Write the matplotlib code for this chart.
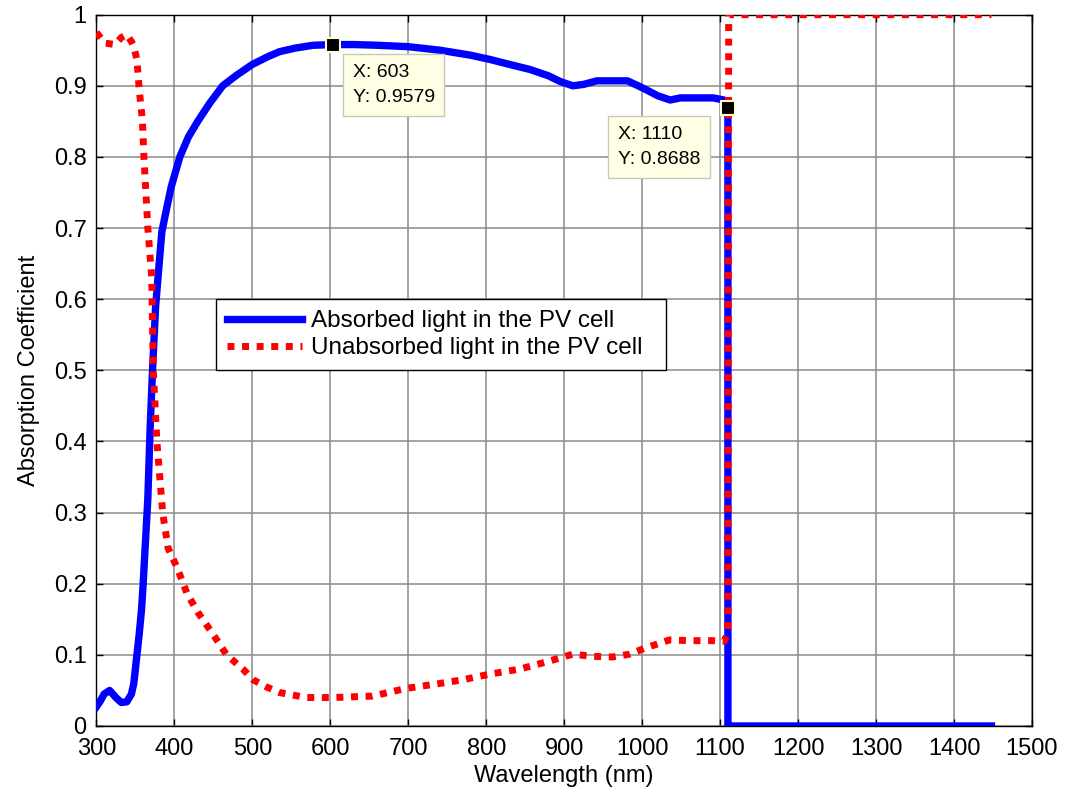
import matplotlib
matplotlib.use("Agg")
import matplotlib.pyplot as plt

plt.rcParams["font.family"] = ["Liberation Sans", "DejaVu Sans"]

# Absorbed light (fraction of incident light absorbed by the PV cell)
absorbed_wl = [300, 305, 310, 317, 325, 332, 339, 345, 348, 352, 355, 358, 360,
               363, 366, 369, 372, 376, 379, 384, 390, 396, 407, 418, 430, 445,
               462, 480, 500, 520, 535, 555, 578, 603, 630, 660, 700, 741, 780,
               805, 830, 856, 880, 895, 911, 925, 942, 960, 981, 995, 1006, 1020,
               1036, 1049, 1070, 1091, 1105, 1110, 1110, 1111, 1448]
absorbed = [0.027, 0.035, 0.045, 0.050, 0.040, 0.033, 0.034, 0.045, 0.060, 0.100,
            0.130, 0.165, 0.200, 0.260, 0.320, 0.420, 0.500, 0.590, 0.630, 0.695,
            0.727, 0.758, 0.800, 0.828, 0.850, 0.875, 0.900, 0.915, 0.930, 0.941,
            0.948, 0.953, 0.957, 0.9579, 0.958, 0.957, 0.955, 0.950, 0.943, 0.937,
            0.930, 0.923, 0.914, 0.906, 0.900, 0.902, 0.907, 0.907, 0.907, 0.900,
            0.894, 0.886, 0.880, 0.883, 0.883, 0.883, 0.880, 0.8688, 0.0, 0.0, 0.0]

# Unabsorbed light (remaining fraction)
unabsorbed_wl = [300, 311, 324, 332, 339, 345, 348, 352, 355, 359, 361, 366, 371,
                 373, 377.6, 385, 392, 403, 416, 430, 449, 467, 488, 501, 518,
                 535, 569, 603, 654, 698, 736, 770, 805, 843, 877, 911, 935, 962,
                 984, 1005, 1035, 1060, 1090, 1105, 1110, 1111, 1448]
unabsorbed = [0.975, 0.960, 0.958, 0.968, 0.972, 0.962, 0.955, 0.937, 0.894,
              0.852, 0.800, 0.700, 0.630, 0.500, 0.400, 0.300, 0.250, 0.224,
              0.187, 0.160, 0.130, 0.100, 0.080, 0.065, 0.055, 0.047, 0.040,
              0.040, 0.042, 0.053, 0.059, 0.065, 0.073, 0.080, 0.090, 0.101,
              0.098, 0.097, 0.101, 0.110, 0.121, 0.120, 0.120, 0.119, 0.131,
              1.0, 1.0]

# Data tips shown on the absorbed curve
tip_x = [603, 1110]
tip_y = [0.9579, 0.8688]
tip_labels = ["X: 603\nY: 0.9579", "X: 1110\nY: 0.8688"]
tip_offsets = [(20, -19), (-110, -18)]

x_ticks = list(range(300, 1501, 100))
y_ticks = [0, 0.1, 0.2, 0.3, 0.4, 0.5, 0.6, 0.7, 0.8, 0.9, 1]
y_tick_labels = ["0", "0.1", "0.2", "0.3", "0.4", "0.5", "0.6", "0.7", "0.8", "0.9", "1"]

fig = plt.figure(figsize=(10.65, 7.93), dpi=100)
ax = fig.add_axes([0.0905, 0.0845, 0.8785, 0.897])

ax.plot(absorbed_wl, absorbed, color="#0000FF", lw=5.3,
        solid_joinstyle="round", label="Absorbed light in the PV cell", zorder=3)
ax.plot(unabsorbed_wl, unabsorbed, color="#FF0000", lw=5.0,
        linestyle=(0, (1.0, 1.1)), label="Unabsorbed light in the PV cell", zorder=4)

ax.set_xlim(300, 1500)
ax.set_ylim(0, 1)
ax.set_xticks(x_ticks)
ax.set_yticks(y_ticks)
ax.set_yticklabels(y_tick_labels)

ax.tick_params(which="both", direction="in", top=True, right=True,
               length=5, width=1, labelsize=17)
ax.tick_params(axis="x", pad=9)
ax.tick_params(axis="y", pad=7)
ax.grid(True, color="#8a8a8a", lw=1.1)
ax.set_axisbelow(True)
for s in ax.spines.values():
    s.set_color("black")
    s.set_linewidth(1.0)

ax.set_xlabel("Wavelength (nm)", fontsize=17, labelpad=3)
ax.set_ylabel("Absorption Coefficient", fontsize=17, labelpad=10)

leg = ax.legend(loc="center", bbox_to_anchor=(0.128, 0.498, 0.481, 0.104),
                mode="expand", fontsize=17.5, handlelength=3.1, handletextpad=0.35,
                borderpad=0.45, labelspacing=0.2, fancybox=False,
                framealpha=1, edgecolor="black", borderaxespad=0)
leg.get_frame().set_linewidth(1.0)

for x, y, lbl, off in zip(tip_x, tip_y, tip_labels, tip_offsets):
    ax.plot([x], [y], marker="s", ms=10, color="black", mec="#FFFFD8",
            mew=1.5, zorder=6, clip_on=False)
    ax.annotate(lbl, xy=(x, y), xytext=off, textcoords="offset pixels",
                ha="left", va="top", fontsize=14, linespacing=1.65, zorder=7,
                bbox=dict(boxstyle="square,pad=0.5", fc="#FFFFE6",
                          ec="#C8C8B4", lw=1))

fig.savefig("out.png", dpi=100)
